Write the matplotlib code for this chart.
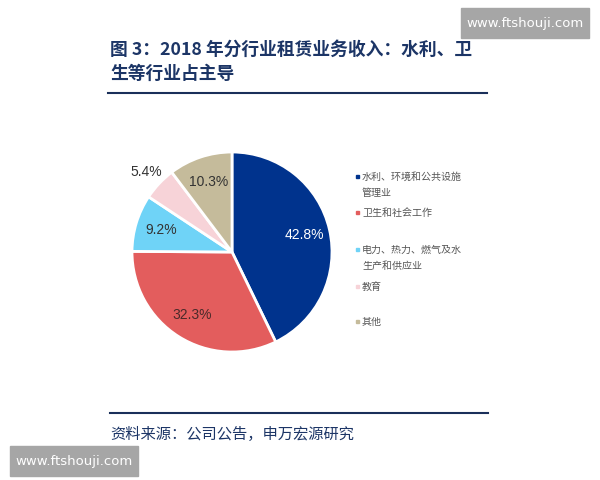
import matplotlib
matplotlib.use("Agg")
import matplotlib.pyplot as plt
import numpy as np

plt.rcParams['font.family'] = ['Noto Sans CJK SC', 'DejaVu Sans']

# data
labels = ['水利、环境和公共设施\n管理业', '卫生和社会工作', '电力、热力、燃气及水\n生产和供应业', '教育', '其他']
values = [42.8, 32.3, 9.2, 5.4, 10.3]
colors = ['#00338d', '#e35d5d', '#6fd3f7', '#f7d3d8', '#c5bb9b']
pct_text_colors = ['white', '#4a2a2a', '#333333', '#333333', '#333333']

title = '图 3：2018 年分行业租赁业务收入：水利、卫\n生等行业占主导'
source = '资料来源：公司公告，申万宏源研究'
watermark = 'www.ftshouji.com'

W, H = 600, 480
fig = plt.figure(figsize=(6, 4.8), dpi=100)

def fx(px):
    return px / W

def fy(py):
    return 1 - py / H

navy = '#1c3566'
fig.text(fx(110), fy(41), title, ha='left', va='top', fontsize=12.8, fontweight='bold',
         color=navy, linespacing=1.4)
fig.add_artist(plt.Line2D([fx(108), fx(487)], [fy(93), fy(93)], color='#1a2f5a', lw=1.5))
fig.add_artist(plt.Line2D([fx(110), fx(488)], [fy(413), fy(413)], color='#1a2f5a', lw=1.5))
fig.text(fx(110), fy(434), source, ha='left', va='center', fontsize=11, color='#1c3566')

# pie
cx, cy, r = 232, 252, 101
ax = fig.add_axes([fx(cx - r), fy(cy + r), 2 * r / W, 2 * r / H])
wedges, texts, autotexts = ax.pie(values, colors=colors, startangle=90, counterclock=False,
                                  autopct='%.1f%%', pctdistance=0.74,
                                  wedgeprops=dict(edgecolor='white', linewidth=2),
                                  textprops=dict(fontsize=10, family=['Liberation Sans', 'DejaVu Sans']))
for t, c in zip(autotexts, pct_text_colors):
    t.set_color(c)
# the small slice label sits outside
w = wedges[3]
ang = np.deg2rad((w.theta1 + w.theta2) / 2)
autotexts[3].set_position((1.17 * np.cos(ang), 1.17 * np.sin(ang)))
ax.set_xlim(-1.01, 1.01)
ax.set_ylim(-1.01, 1.01)
ax.set_aspect('equal')

# legend
leg_y = [176, 212, 249, 286, 321]
for lab, c, y in zip(labels, colors, leg_y):
    fig.add_artist(plt.Rectangle((fx(356), fy(y) - 1.5 / H), 3 / W, 3 / H, color=c, transform=fig.transFigure))
    fig.text(fx(362), fy(y) + 4 / H, lab, ha='left', va='top', fontsize=7.2,
             color='#555555', linespacing=1.75)

# watermarks
for x0, y0 in [(461, 8), (10, 446)]:
    fig.add_artist(plt.Rectangle((fx(x0), fy(y0 + 30)), 128 / W, 30 / H, color='#a6a6a6',
                                 transform=fig.transFigure))
    fig.text(fx(x0 + 64), fy(y0 + 15), watermark, ha='center', va='center', fontsize=9.5,
             color='white', family=['DejaVu Sans'])

fig.savefig('out.png', dpi=100)
plt.close(fig)
